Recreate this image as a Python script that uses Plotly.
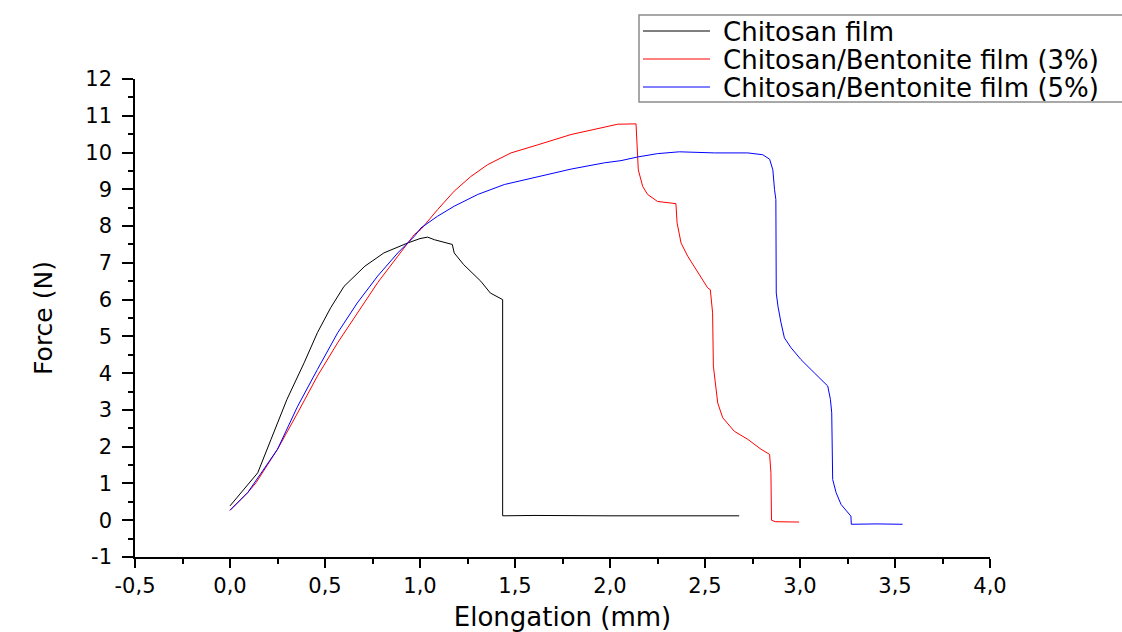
import plotly.graph_objects as go

# ---------------- data ----------------
chitosan_x = [0, 0.075, 0.146, 0.216, 0.30, 0.39, 0.46, 0.53, 0.60, 0.71, 0.81, 0.935,
              1.00, 1.04, 1.075, 1.17, 1.18, 1.23, 1.32, 1.37, 1.435, 1.435,
              1.6, 2.0, 2.4, 2.68]
chitosan_y = [0.39, 0.84, 1.29, 2.2, 3.29, 4.28, 5.10, 5.78, 6.36, 6.91, 7.27, 7.54,
              7.66, 7.70, 7.63, 7.50, 7.27, 6.95, 6.50, 6.18, 6.00, 0.12,
              0.13, 0.12, 0.13, 0.12]

bent3_x = [0, 0.093, 0.137, 0.25, 0.356, 0.46, 0.567, 0.67, 0.777, 0.883, 0.97, 1.005,
           1.093, 1.18, 1.268, 1.356, 1.479, 1.62, 1.795, 1.953, 2.04, 2.137,
           2.142, 2.149, 2.172, 2.198, 2.25, 2.347, 2.353, 2.374, 2.409, 2.46,
           2.514, 2.528, 2.54, 2.544, 2.558, 2.567, 2.593, 2.654, 2.725, 2.795,
           2.84, 2.847, 2.85, 2.87, 2.995]
bent3_y = [0.27, 0.75, 1.02, 1.93, 2.92, 3.92, 4.83, 5.64, 6.46, 7.18, 7.77, 7.91,
           8.45, 8.95, 9.35, 9.67, 9.99, 10.21, 10.49, 10.67, 10.77, 10.78,
           10.3, 9.53, 9.08, 8.86, 8.67, 8.61, 8.09, 7.54, 7.18, 6.77,
           6.32, 6.27, 5.64, 4.19, 3.56, 3.19, 2.79, 2.42, 2.20, 1.93,
           1.79, 1.29, 0.0, -0.04, -0.05]

bent5_x = [0, 0.093, 0.25, 0.356, 0.46, 0.567, 0.67, 0.777, 0.883, 0.97, 1.005,
           1.093, 1.18, 1.304, 1.444, 1.62, 1.795, 1.97, 2.058, 2.146, 2.25,
           2.365, 2.55, 2.725, 2.804, 2.84, 2.857, 2.866, 2.873, 2.875, 2.884,
           2.9, 2.918, 2.953, 3.005, 3.075, 3.137, 3.146, 3.16, 3.167, 3.172,
           3.19, 3.216, 3.25, 3.268, 3.27, 3.4, 3.54]
bent5_y = [0.27, 0.75, 1.93, 3.10, 4.10, 5.10, 5.91, 6.64, 7.27, 7.72, 7.95,
           8.27, 8.54, 8.86, 9.13, 9.35, 9.55, 9.72, 9.78, 9.88, 9.97,
           10.02, 9.99, 9.99, 9.94, 9.82, 9.53, 8.99, 8.72, 6.18, 5.82,
           5.37, 4.96, 4.69, 4.37, 4.01, 3.69, 3.65, 3.29, 2.92, 1.11,
           0.75, 0.43, 0.21, 0.11, -0.11, -0.10, -0.11]

series_names = ["Chitosan film", "Chitosan/Bentonite film (3%)", "Chitosan/Bentonite film (5%)"]
series_colors = ["#000000", "#ff0000", "#0000ff"]

x_tickvals = [-0.5, 0.0, 0.5, 1.0, 1.5, 2.0, 2.5, 3.0, 3.5, 4.0]
x_ticktext = ["-0,5", "0,0", "0,5", "1,0", "1,5", "2,0", "2,5", "3,0", "3,5", "4,0"]
y_tickvals = list(range(-1, 13))
y_ticktext = [str(v) for v in y_tickvals]

# ---------------- layout geometry ----------------
W, H = 1122, 632
ML, MR, MT, MB = 135, 132, 79, 75
PW, PH = W - ML - MR, H - MT - MB


def px(xpix):
    return (xpix - ML) / PW


def py(ypix):
    return (H - MB - ypix) / PH


FONT = "DejaVu Sans"
TICK_SIZE = 21

fig = go.Figure()
for xs, ys, name, col in zip([chitosan_x, bent3_x, bent5_x],
                             [chitosan_y, bent3_y, bent5_y],
                             series_names, series_colors):
    fig.add_trace(go.Scatter(x=xs, y=ys, mode="lines", name=name,
                             line=dict(color=col, width=1), showlegend=False))

# manual legend box (extends past the right edge like the reference)
shapes = [dict(type="rect", xref="paper", yref="paper",
               x0=px(639), x1=px(1140), y0=py(102), y1=py(15),
               line=dict(color="#8c8c8c", width=1.5), fillcolor="rgba(0,0,0,0)")]
annotations = []
legend_rows = [31, 59, 87]
for name, col, yr in zip(series_names, series_colors, legend_rows):
    shapes.append(dict(type="line", xref="paper", yref="paper",
                       x0=px(643), x1=px(710), y0=py(yr), y1=py(yr),
                       line=dict(color=col, width=1)))
    annotations.append(dict(xref="paper", yref="paper", x=px(721), y=py(yr + 1),
                            xanchor="left", yanchor="middle", showarrow=False,
                            text=name, font=dict(family=FONT, size=26, color="#000")))

fig.update_layout(
    width=W, height=H,
    margin=dict(l=ML, r=MR, t=MT, b=MB),
    paper_bgcolor="white", plot_bgcolor="white",
    font=dict(family=FONT, color="#000", size=TICK_SIZE),
    shapes=shapes, annotations=annotations,
    xaxis=dict(range=[-0.5, 4.0], tickmode="array", tickvals=x_tickvals, ticktext=x_ticktext,
               showgrid=False, zeroline=False, showline=True, linecolor="#000",
               linewidth=1.5, ticks="outside", ticklen=9, tickwidth=1.5,
               tickcolor="#000", tickfont=dict(size=TICK_SIZE, family=FONT, color="#000"),
               minor=dict(ticks="outside", ticklen=5, tickwidth=1.5,
                          tickvals=[-0.25, 0.25, 0.75, 1.25, 1.75, 2.25, 2.75, 3.25, 3.75],
                          tickcolor="#000", showgrid=False),
               title=dict(text="Elongation (mm)", font=dict(family=FONT, size=26),
                          standoff=14),
               automargin=False, fixedrange=True),
    yaxis=dict(range=[-1, 12], tickmode="array", tickvals=y_tickvals, ticktext=y_ticktext,
               showgrid=False, zeroline=False, showline=True, linecolor="#000",
               linewidth=1.5, ticks="outside", ticklen=11, tickwidth=1.5,
               tickcolor="#000", tickfont=dict(size=TICK_SIZE, family=FONT, color="#000"),
               ticklabelstandoff=6,
               minor=dict(ticks="outside", ticklen=5, tickwidth=1.5, dtick=0.5,
                          tickcolor="#000", showgrid=False),
               title=dict(text="Force (N)", font=dict(family=FONT, size=25),
                          standoff=26),
               automargin=False, fixedrange=True),
)

fig.write_html("out.html", config={"displayModeBar": False},
               post_script="document.body.style.margin='0';document.body.style.overflow='hidden';")
